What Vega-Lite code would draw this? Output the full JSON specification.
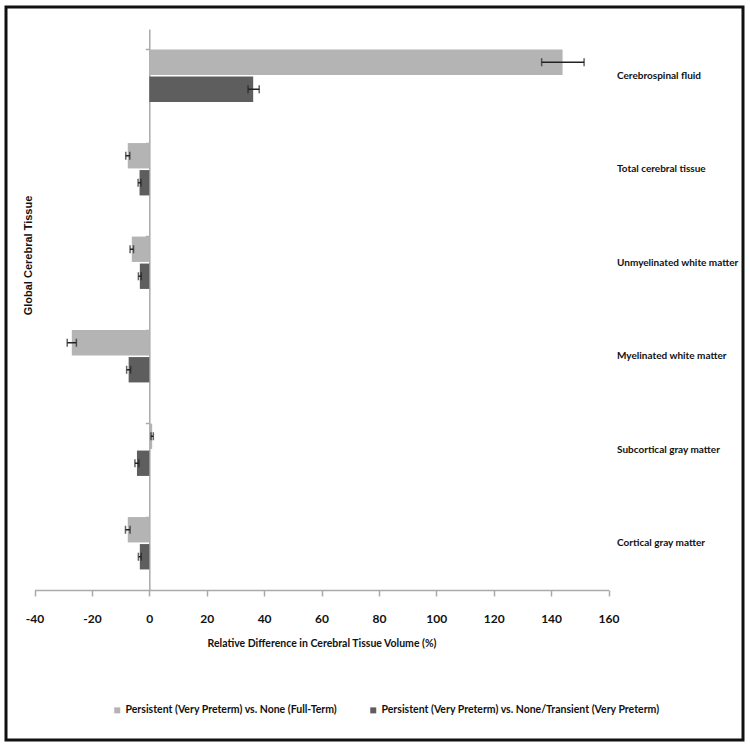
{
  "$schema": "https://vega.github.io/schema/vega-lite/v6.json",
  "width": 737,
  "height": 733,
  "autosize": "none",
  "padding": {"left": 6, "top": 7, "right": 7, "bottom": 8},
  "background": "white",
  "config": {
    "view": {"stroke": "#111111", "strokeWidth": 3},
    "font": "Lato, sans-serif",
    "axis": {"labelFont": "Lato", "labelFontWeight": "bold", "labelColor": "#111111", "titleColor": "#111111"}
  },
  "data": {"values": [
    {"cat": "Cerebrospinal fluid", "series": "Persistent (Very Preterm) vs. None (Full-Term)", "value": 144, "lo": 136.7, "hi": 151.5},
    {"cat": "Cerebrospinal fluid", "series": "Persistent (Very Preterm) vs. None/Transient (Very Preterm)", "value": 36.2, "lo": 34.4, "hi": 38.3},
    {"cat": "Total cerebral tissue", "series": "Persistent (Very Preterm) vs. None (Full-Term)", "value": -7.5, "lo": -8.2, "hi": -6.8},
    {"cat": "Total cerebral tissue", "series": "Persistent (Very Preterm) vs. None/Transient (Very Preterm)", "value": -3.4, "lo": -3.9, "hi": -2.9},
    {"cat": "Unmyelinated white matter", "series": "Persistent (Very Preterm) vs. None (Full-Term)", "value": -6.1, "lo": -6.7, "hi": -5.5},
    {"cat": "Unmyelinated white matter", "series": "Persistent (Very Preterm) vs. None/Transient (Very Preterm)", "value": -3.3, "lo": -3.8, "hi": -2.8},
    {"cat": "Myelinated white matter", "series": "Persistent (Very Preterm) vs. None (Full-Term)", "value": -27, "lo": -28.6, "hi": -25.4},
    {"cat": "Myelinated white matter", "series": "Persistent (Very Preterm) vs. None/Transient (Very Preterm)", "value": -7.2, "lo": -7.9, "hi": -6.5},
    {"cat": "Subcortical gray matter", "series": "Persistent (Very Preterm) vs. None (Full-Term)", "value": 1.0, "lo": 0.6, "hi": 1.4},
    {"cat": "Subcortical gray matter", "series": "Persistent (Very Preterm) vs. None/Transient (Very Preterm)", "value": -4.3, "lo": -5.0, "hi": -3.6},
    {"cat": "Cortical gray matter", "series": "Persistent (Very Preterm) vs. None (Full-Term)", "value": -7.5, "lo": -8.3, "hi": -6.7},
    {"cat": "Cortical gray matter", "series": "Persistent (Very Preterm) vs. None/Transient (Very Preterm)", "value": -3.3, "lo": -3.8, "hi": -2.8}
  ]},
  "resolve": {"axis": {"y": "independent"}},
  "encoding": {
    "y": {
      "field": "cat", "type": "nominal",
      "sort": ["Cerebrospinal fluid", "Total cerebral tissue", "Unmyelinated white matter", "Myelinated white matter", "Subcortical gray matter", "Cortical gray matter"],
      "scale": {"range": [22, 583], "paddingInner": 0.44, "paddingOuter": 0.22}
    },
    "yOffset": {
      "field": "series", "type": "nominal",
      "sort": ["Persistent (Very Preterm) vs. None (Full-Term)", "Persistent (Very Preterm) vs. None/Transient (Very Preterm)"],
      "scale": {"paddingInner": 0.06}
    }
  },
  "layer": [
    {
      "mark": {"type": "bar"},
      "encoding": {
        "x": {
          "field": "value", "type": "quantitative",
          "scale": {"domain": [-40, 160], "range": [28.5, 602.5], "nice": false, "zero": false},
          "axis": {
            "orient": "bottom", "offset": -150, "values": [-40, -20, 0, 20, 40, 60, 80, 100, 120, 140, 160],
            "labelExpr": "toString(datum.value)",
            "grid": false, "domainColor": "#aaaaaa", "domainWidth": 1.5, "tickColor": "#aaaaaa", "tickWidth": 1.5, "tickSize": 6,
            "labelFontSize": 12, "labelPadding": 17, "labelFlush": false,
            "title": "Relative Difference in Cerebral Tissue Volume (%)",
            "titleFont": "Lato", "titleFontSize": 10.5, "titleFontWeight": "bold", "titlePadding": 14
          }
        },
        "y": {"field": "cat", "type": "nominal", "sort": ["Cerebrospinal fluid", "Total cerebral tissue", "Unmyelinated white matter", "Myelinated white matter", "Subcortical gray matter", "Cortical gray matter"],
          "axis": {"orient": "right", "offset": -134.5, "domain": false, "ticks": false, "labelPadding": 8, "labelFontSize": 10, "title": null, "labelLimit": 200}
        },
        "color": {
          "field": "series", "type": "nominal",
          "sort": ["Persistent (Very Preterm) vs. None (Full-Term)", "Persistent (Very Preterm) vs. None/Transient (Very Preterm)"],
          "scale": {"range": ["#b4b4b4", "#5e5e5e"]},
          "legend": {
            "orient": "none", "legendX": 106, "legendY": 698, "direction": "horizontal", "title": null,
            "symbolType": "square", "symbolSize": 36, "symbolStrokeWidth": 0,
            "labelFont": "Lato", "labelFontSize": 10.5, "labelFontWeight": "bold", "labelColor": "#111111", "labelLimit": 400, "columnPadding": 30, "labelOffset": 3
          }
        }
      }
    },
    {
      "mark": {"type": "rule", "color": "#222222", "strokeWidth": 1.5},
      "encoding": {
        "x": {"field": "lo", "type": "quantitative"},
        "x2": {"field": "hi"},
        "y": {"field": "cat", "type": "nominal", "sort": ["Cerebrospinal fluid", "Total cerebral tissue", "Unmyelinated white matter", "Myelinated white matter", "Subcortical gray matter", "Cortical gray matter"],
          "axis": {"orient": "left", "offset": -143.3, "domain": true, "domainColor": "#aaaaaa", "domainWidth": 1.5, "ticks": true, "bandPosition": 0, "tickColor": "#aaaaaa", "tickSize": 4, "tickWidth": 1.5, "labels": false,
            "title": "Global Cerebral Tissue", "titleFont": "Liberation Sans, Arial, sans-serif", "titleFontSize": 11, "titleFontWeight": "bold", "titleX": -121, "titleY": 248, "titleAngle": -90, "titleAlign": "center", "titleBaseline": "middle"}
        }
      }
    },
    {
      "mark": {"type": "tick", "color": "#222222", "thickness": 1.5, "size": 8},
      "encoding": {
        "x": {"field": "lo", "type": "quantitative"},
        "y": {"field": "cat", "type": "nominal", "sort": ["Cerebrospinal fluid", "Total cerebral tissue", "Unmyelinated white matter", "Myelinated white matter", "Subcortical gray matter", "Cortical gray matter"], "axis": null}
      }
    },
    {
      "mark": {"type": "tick", "color": "#222222", "thickness": 1.5, "size": 8},
      "encoding": {
        "x": {"field": "hi", "type": "quantitative"},
        "y": {"field": "cat", "type": "nominal", "sort": ["Cerebrospinal fluid", "Total cerebral tissue", "Unmyelinated white matter", "Myelinated white matter", "Subcortical gray matter", "Cortical gray matter"], "axis": null}
      }
    }
  ]
}
